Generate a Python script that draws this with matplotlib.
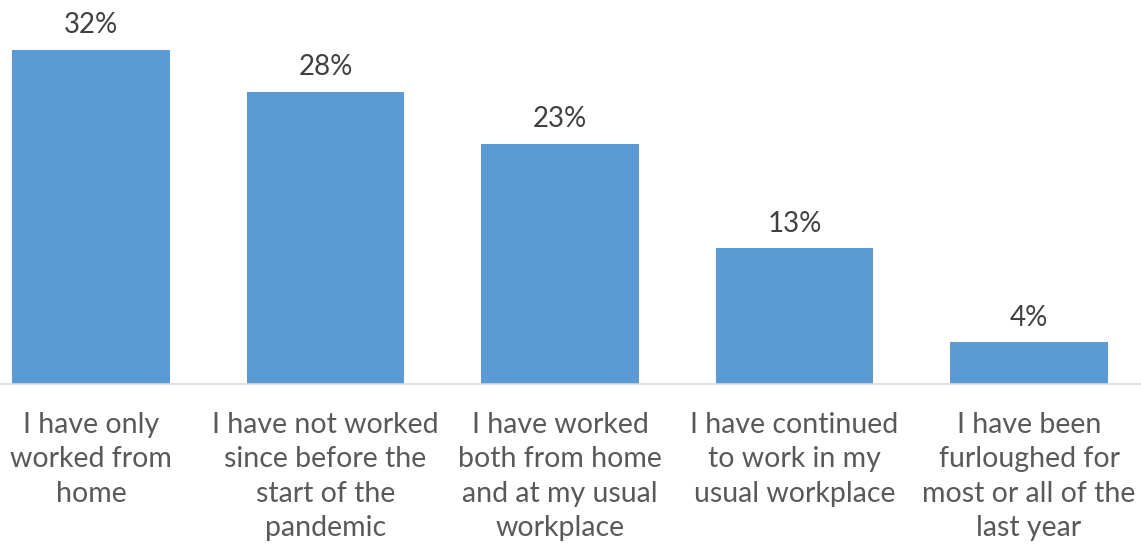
import matplotlib.pyplot as plt

# 데이터
categories = [
    "I have only\nworked from\nhome",
    "I have not worked\nsince before the\nstart of the\npandemic",
    "I have worked\nboth from home\nand at my usual\nworkplace",
    "I have continued\nto work in my\nusual workplace",
    "I have been\nfurloughed for\nmost or all of the\nlast year",
]
values = [32, 28, 23, 13, 4]
value_labels = ["32%", "28%", "23%", "13%", "4%"]

plt.rcParams['font.family'] = ['Lato', 'DejaVu Sans']

fig = plt.figure(figsize=(11.41, 5.48), dpi=100)
# 축 위치: 아래쪽 기준선 y=384px, 위쪽 0px
ax = fig.add_axes([0, 164 / 548, 1, 384 / 548])

x = list(range(len(values)))
ax.bar(x, values, width=0.67, color='#5b9bd5', zorder=2)

ax.set_xlim(-91 / 234.5, (1141 - 91) / 234.5)
ax.set_ylim(0, 384 / 10.44)

for sp in ['top', 'left', 'right']:
    ax.spines[sp].set_visible(False)
ax.spines['bottom'].set_color('#d9d9d9')
ax.spines['bottom'].set_linewidth(1.2)
ax.set_yticks([])
ax.set_xticks([])

# 값 라벨
for xi, v, lab in zip(x, values, value_labels):
    ax.annotate(lab, xy=(xi, v), xytext=(0, 12), textcoords='offset points',
                ha='center', va='baseline', fontsize=20, color='#404040')

# 카테고리 라벨
for xi, cat in zip(x, categories):
    ax.annotate(cat, xy=(xi, 0), xycoords=('data', 'axes fraction'),
                xytext=(0, -20), textcoords='offset points',
                ha='center', va='top', multialignment='center',
                fontsize=20.5, color='#595959', linespacing=1.4)

fig.savefig('out.png', dpi=100)
